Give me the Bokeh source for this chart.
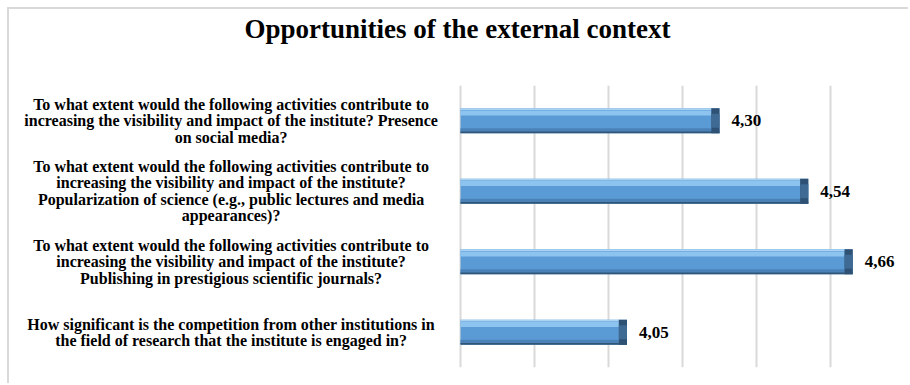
from bokeh.plotting import figure
from bokeh.models import FactorRange, Range1d, FixedTicker, ColumnDataSource, Title
from bokeh.transform import dodge
from bokeh.core.properties import value
from bokeh.embed import file_html
from bokeh.resources import INLINE

categories = [
    "To what extent would the following activities contribute to\nincreasing the visibility and impact of the institute? Presence\non social media?",
    "To what extent would the following activities contribute to\nincreasing the visibility and impact of the institute?\nPopularization of science (e.g., public lectures and media\nappearances)?",
    "To what extent would the following activities contribute to\nincreasing the visibility and impact of the institute?\nPublishing in prestigious scientific journals?",
    "How significant is the competition from other institutions in\nthe field of research that the institute is engaged in?",
]
values = [4.30, 4.54, 4.66, 4.05]
grid_ticks = [3.6, 3.8, 4.0, 4.2, 4.4, 4.6, 4.8]
title_text = "Opportunities of the external context"

value_labels = [f"{v:.2f}".replace(".", ",") for v in values]
axis_min = grid_ticks[0]
label_x = 2.98

src = ColumnDataSource(dict(
    cat=categories,
    val=values,
    lab=value_labels,
    cap=[v - 0.022 for v in values],
    lx=[label_x] * len(categories),
))

FONT = "Liberation Serif"

p = figure(
    width=901, height=376,
    y_range=FactorRange(*reversed(categories)),
    x_range=Range1d(2.3838, 4.8),
    output_backend="svg", toolbar_location=None,
    min_border_left=1, min_border_right=6, min_border_bottom=18, min_border_top=76,
    styles={"margin-left": "7px", "margin-top": "7px",
            "border-left": "2px solid #d9d9d9", "border-top": "2px solid #d9d9d9"},
)
p.title.text = ""

# spacer between the title and the plot frame
p.add_layout(Title(text=" ", text_font_size="10px", standoff=28), "above")
# real title
p.add_layout(Title(text=title_text, align="center", text_font=FONT, text_font_size="27px",
                   text_font_style="bold", text_color="black", standoff=2), "above")

p.xaxis.visible = False
p.yaxis.visible = False
p.ygrid.grid_line_color = None
p.xgrid.ticker = FixedTicker(ticks=grid_ticks)
p.xgrid.bounds = (grid_ticks[0], grid_ticks[-1])
p.xgrid.grid_line_color = "#d9d9d9"
p.xgrid.grid_line_width = 2
p.outline_line_color = None
p.background_fill_color = "white"
p.border_fill_color = "white"

H = 0.355
# base bar
p.hbar(y="cat", left=axis_min, right="val", height=H, source=src,
       fill_color="#5b9bd5", line_color=None)
# top highlight
p.hbar(y=dodge("cat", 0.11, range=p.y_range), left=axis_min, right="cap", height=0.07, source=src,
       fill_color="#8cc3ef", line_color=None)
p.hbar(y=dodge("cat", 0.165, range=p.y_range), left=axis_min, right="cap", height=0.025, source=src,
       fill_color="#a9d2f3", line_color=None)
# bottom shade
p.hbar(y=dodge("cat", -0.135, range=p.y_range), left=axis_min, right="val", height=0.06, source=src,
       fill_color="#4a82b8", line_color=None)
p.hbar(y=dodge("cat", -0.165, range=p.y_range), left=axis_min, right="val", height=0.025, source=src,
       fill_color="#2f5677", line_color=None)
# right cap
p.hbar(y="cat", left="cap", right="val", height=H, source=src,
       fill_color="#2f5274", line_color=None)
p.hbar(y="cat", left="cap", right="val", height=0.2, source=src,
       fill_color="#3f6a93", line_color=None)

# value labels
p.text(x="val", y="cat", text="lab", source=src, x_offset=12,
       text_font=value(FONT), text_font_style="bold", text_font_size="17px",
       text_align="left", text_baseline="middle", text_color="black")

# category labels
p.text(x="lx", y="cat", text="cat", source=src,
       text_font=value(FONT), text_font_style="bold", text_font_size="16px",
       text_align="center", text_baseline="middle", text_color="black",
       text_line_height=0.97)

open("out.html", "w").write(file_html(p, INLINE))
